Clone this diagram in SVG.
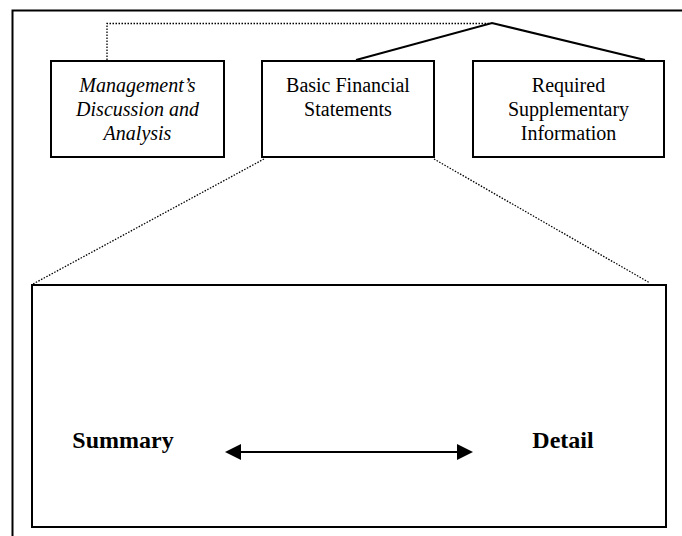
<svg xmlns="http://www.w3.org/2000/svg" width="682" height="536" viewBox="0 0 682 536">
<style>
.box{fill:#fff;stroke:#000;stroke-width:2}
.dot{fill:none;stroke:#000;stroke-width:1.3;stroke-dasharray:1.5 1.5}
.sol{fill:none;stroke:#000;stroke-width:2}
</style>
<rect width="682" height="536" fill="#fff"/>
<g id="frame">
<path d="M12.5,536 V10.5 H682" class="sol"/>
</g>
<g font-family="Liberation Serif, Times New Roman, serif" font-size="20" text-anchor="middle" fill="#000">
<g id="mda">
<rect x="51" y="61" width="173" height="96" class="box"/>
<text x="137.5" y="92" font-style="italic">Management’s</text>
<text x="137.5" y="116" font-style="italic">Discussion and</text>
<text x="137.5" y="140" font-style="italic">Analysis</text>
</g>
<g id="bfs">
<rect x="262" y="61" width="172" height="96" class="box"/>
<text x="348" y="92">Basic Financial</text>
<text x="348" y="116">Statements</text>
</g>
<g id="rsi">
<rect x="473" y="61" width="191" height="96" class="box"/>
<text x="568.5" y="92">Required</text>
<text x="568.5" y="116">Supplementary</text>
<text x="568.5" y="140">Information</text>
</g>
<g id="detail-box">
<rect x="32" y="285" width="634" height="242" class="box"/>
<text x="123" y="448" font-weight="bold" font-size="24">Summary</text>
<text x="563" y="448" font-weight="bold" font-size="24">Detail</text>
</g>
</g>
<g id="connectors">
<path d="M107,60 V23.5 H490" class="dot"/>
<path d="M356,60 L492,23 L645,60" class="sol"/>
<path d="M264,159 L33,284" class="dot"/>
<path d="M434,159 L650,283" class="dot"/>
<line x1="238" y1="452" x2="460" y2="452" stroke="#000" stroke-width="2.2"/>
<polygon points="225,452 241,444 241,460" fill="#000"/>
<polygon points="473,452 457,444 457,460" fill="#000"/>
</g>
</svg>
